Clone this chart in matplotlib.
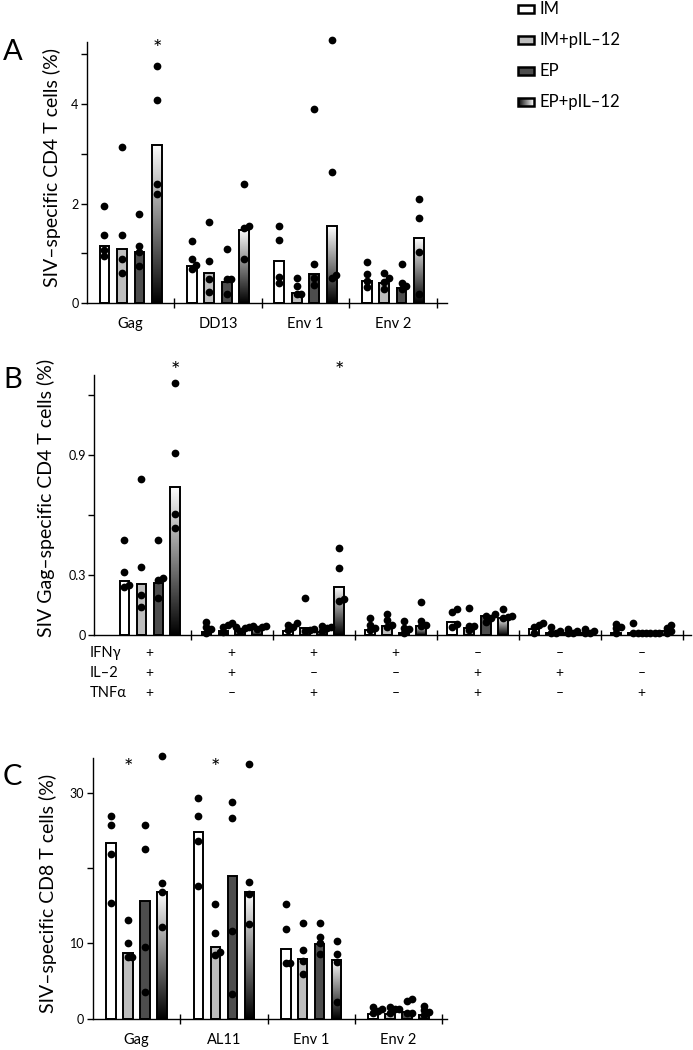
import numpy as np
import matplotlib
matplotlib.use('Agg')
import matplotlib.pyplot as plt
from matplotlib.patches import Rectangle
from matplotlib import transforms

plt.rcParams['font.family'] = ['Lato', 'DejaVu Sans']

# ---------------- data ----------------
series = ['IM', 'IM+pIL–12', 'EP', 'EP+pIL–12']

# Panel A: SIV-specific CD4 T cells (%)
groups_a = ['Gag', 'DD13', 'Env 1', 'Env 2']
bars_a_im = [1.15, 0.75, 0.84, 0.44]
bars_a_im12 = [1.08, 0.61, 0.21, 0.40]
bars_a_ep = [1.02, 0.42, 0.58, 0.31]
bars_a_ep12 = [3.18, 1.47, 1.54, 1.30]
dots_a_im = [[1.95, 1.37, 1.07, 0.95], [1.25, 0.88, 0.76, 0.68], [1.55, 1.27, 0.53, 0.40], [0.82, 0.58, 0.44, 0.33]]
dots_a_im12 = [[3.14, 1.37, 0.88, 0.61], [1.63, 0.85, 0.49, 0.22], [0.51, 0.35, 0.19, 0.18], [0.61, 0.50, 0.43, 0.29]]
dots_a_ep = [[1.79, 1.15, 1.03, 0.74], [1.09, 0.49, 0.49, 0.19], [3.91, 0.79, 0.51, 0.36], [0.79, 0.40, 0.35, 0.28]]
dots_a_ep12 = [[4.77, 4.09, 2.39, 2.20], [2.39, 1.55, 1.50, 0.88], [5.29, 2.63, 0.56, 0.51], [2.10, 1.71, 1.03, 0.18]]
sig_a = [(0, 3)]
yticks_a = [0, 1, 2, 3, 4, 5]
yticklabels_a = ['0', '', '2', '', '4', '']

# Panel B: SIV Gag-specific CD4 T cells (%), by cytokine combination
cytokines = ['IFNγ', 'IL–2', 'TNFα']
combo_ifng = ['+', '+', '+', '+', '–', '–', '–']
combo_il2 = ['+', '+', '–', '–', '+', '+', '–']
combo_tnfa = ['+', '–', '+', '–', '+', '–', '+']
bars_b_im = [0.27, 0.018, 0.022, 0.025, 0.068, 0.03, 0.01]
bars_b_im12 = [0.256, 0.022, 0.038, 0.045, 0.035, 0.01, 0.01]
bars_b_ep = [0.263, 0.022, 0.015, 0.013, 0.095, 0.01, 0.01]
bars_b_ep12 = [0.743, 0.03, 0.243, 0.045, 0.085, 0.01, 0.02]
dots_b_im = [[0.475, 0.318, 0.252, 0.24], [0.065, 0.04, 0.03, 0.01], [0.063, 0.052, 0.043, 0.027],
             [0.088, 0.052, 0.035, 0.027], [0.13, 0.115, 0.057, 0.043], [0.063, 0.052, 0.043, 0.01],
             [0.057, 0.043, 0.035, 0.013]]
dots_b_im12 = [[0.78, 0.343, 0.20, 0.143], [0.06, 0.052, 0.043, 0.018], [0.188, 0.033, 0.027, 0.02],
               [0.105, 0.077, 0.052, 0.04], [0.135, 0.048, 0.048, 0.027], [0.04, 0.02, 0.01, 0.01],
               [0.063, 0.013, 0.013, 0.01]]
dots_b_ep = [[0.475, 0.285, 0.277, 0.188], [0.043, 0.04, 0.035, 0.023], [0.048, 0.043, 0.035, 0.023],
             [0.072, 0.035, 0.03, 0.01], [0.105, 0.097, 0.085, 0.068], [0.032, 0.023, 0.013, 0.01],
             [0.013, 0.013, 0.013, 0.01]]
dots_b_ep12 = [[1.26, 0.908, 0.605, 0.538], [0.048, 0.048, 0.043, 0.03], [0.435, 0.338, 0.181, 0.171],
               [0.168, 0.072, 0.052, 0.045], [0.13, 0.097, 0.093, 0.085], [0.032, 0.023, 0.013, 0.01],
               [0.052, 0.035, 0.023, 0.013]]
sig_b = [(0, 3), (2, 3)]
yticks_b = [0, 0.3, 0.6, 0.9, 1.2]
yticklabels_b = ['0', '0.3', '', '0.9', '']

# Panel C: SIV-specific CD8 T cells (%)
groups_c = ['Gag', 'AL11', 'Env 1', 'Env 2']
bars_c_im = [23.4, 24.8, 9.25, 0.58]
bars_c_im12 = [8.67, 9.56, 7.9, 0.58]
bars_c_ep = [15.7, 18.9, 9.9, 0.9]
bars_c_ep12 = [16.9, 16.9, 7.76, 0.5]
dots_c_im = [[26.9, 25.7, 21.9, 15.4], [29.3, 26.9, 23.6, 17.6], [15.2, 11.9, 7.45, 7.4], [1.5, 1.24, 1.0, 0.8]]
dots_c_im12 = [[13.1, 10.0, 8.25, 8.2], [15.2, 11.4, 8.8, 8.45], [12.7, 9.1, 7.7, 6.0], [1.5, 1.33, 1.24, 0.8]]
dots_c_ep = [[25.7, 22.6, 9.5, 3.6], [28.8, 26.7, 11.7, 3.3], [12.7, 10.9, 10.1, 8.6], [2.6, 2.35, 0.8, 0.7]]
dots_c_ep12 = [[34.9, 18.0, 16.9, 12.2], [33.8, 18.1, 16.6, 12.6], [10.36, 8.6, 7.57, 2.26], [1.7, 1.15, 0.93, 0.5]]
sig_c = [(0, 1), (1, 1)]
yticks_c = [0, 10, 20, 30]
yticklabels_c = ['0', '10', '', '30']

# ---------------- style ----------------
FILLS = ['white', '#bdbdbd', '#4d4d4d', None]
W, H = 693, 1050
DPI = 100
fig = plt.figure(figsize=(W / DPI, H / DPI), dpi=DPI)


def px_axes(l, t, r, b):
    return fig.add_axes([l / W, 1 - b / H, (r - l) / W, (b - t) / H])


def swarm(ax, xc, vals, d=7.5):
    tr = ax.transData
    inv = tr.inverted()
    cx = tr.transform((xc, 0))[0]
    placed = []
    out = [0.0] * len(vals)
    for i in np.argsort(vals, kind='stable'):
        py = tr.transform((xc, vals[i]))[1]
        px = cx
        for c in [0, 0.6, 1.2, -0.6, 1.8]:
            px = cx + c * d
            if all(np.hypot(px - qx, py - qy) >= 0.55 * d for qx, qy in placed):
                break
        placed.append((px, py))
        out[i] = inv.transform((px, py))[0]
    return out


def draw_panel(ax, bar_sets, dot_sets, xlim, ylim, yticks, yticklabels, xlabels,
               sig, sig_y, width=0.112, step=0.2):
    ax.set_xlim(*xlim)
    ax.set_ylim(*ylim)
    n = len(bar_sets[0])
    x = np.arange(n)
    for si in range(4):
        xs = x + (si - 1.5) * step
        fc = FILLS[si] if FILLS[si] is not None else 'none'
        rects = ax.bar(xs, bar_sets[si], width=width, color=fc, edgecolor='black',
                       linewidth=1.4, zorder=2)
        if FILLS[si] is None:
            for r in rects:
                grad = np.linspace(0, 1, 256).reshape(-1, 1)
                im = ax.imshow(grad, cmap='gray', origin='lower', aspect='auto',
                               extent=[r.get_x(), r.get_x() + r.get_width(), 0, r.get_height()],
                               zorder=1.9, vmin=0, vmax=1)
                im.set_clip_path(r)
        ax.set_xlim(*xlim)
        ax.set_ylim(*ylim)
        for gi in range(n):
            xd = swarm(ax, xs[gi], dot_sets[si][gi])
            ax.scatter(xd, dot_sets[si][gi], s=31, color='black', linewidths=0, zorder=3,
                       clip_on=False)
    for gi, si in sig:
        ax.text(x[gi] + (si - 1.5) * step, sig_y, '*', ha='center', va='center',
                fontsize=16, clip_on=False)
    ax.set_xlim(*xlim)
    ax.set_ylim(*ylim)
    for s in ['top', 'right']:
        ax.spines[s].set_visible(False)
    for s in ['left', 'bottom']:
        ax.spines[s].set_linewidth(1.0)
    ax.set_yticks(yticks, labels=yticklabels)
    ax.tick_params(axis='y', direction='out', length=4, width=1, labelsize=9, pad=2)
    ax.set_xticks(x, labels=xlabels)
    ax.tick_params(axis='x', which='major', length=0, labelsize=10.5, pad=10)
    ax.set_xticks(np.arange(n) + 0.5, minor=True)
    ax.tick_params(axis='x', which='minor', direction='inout', length=7, width=1)
    return x


# Panel A
axA = px_axes(87, 42, 447, 303)
draw_panel(axA, [bars_a_im, bars_a_im12, bars_a_ep, bars_a_ep12],
           [dots_a_im, dots_a_im12, dots_a_ep, dots_a_ep12],
           (-0.5, 3.62), (0, 5.25), yticks_a, yticklabels_a, groups_a, sig_a, 5.1)

# Panel B
axB = px_axes(94.3, 375, 690.7, 635.3)
xb = draw_panel(axB, [bars_b_im, bars_b_im12, bars_b_ep, bars_b_ep12],
                [dots_b_im, dots_b_im12, dots_b_ep, dots_b_ep12],
                (-0.677, 6.6), (0, 1.30), yticks_b, yticklabels_b, [''] * 7, sig_b, 1.32,
                width=0.116, step=0.207)
tb = transforms.blended_transform_factory(axB.transData, fig.transFigure)
for ri, (name, combo) in enumerate(zip(cytokines, [combo_ifng, combo_il2, combo_tnfa])):
    yrow = 1 - (652.7 + 20 * ri) / H
    fig.text(90 / W, yrow, name, ha='left', va='center', fontsize=10.5)
    for gi, sym in enumerate(combo):
        axB.text(xb[gi], yrow, sym, transform=tb, ha='center', va='center', fontsize=10)

# Panel C
axC = px_axes(92.7, 758.3, 446.7, 1018.7)
draw_panel(axC, [bars_c_im, bars_c_im12, bars_c_ep, bars_c_ep12],
           [dots_c_im, dots_c_im12, dots_c_ep, dots_c_ep12],
           (-0.5, 3.55), (0, 34.6), yticks_c, yticklabels_c, groups_c, sig_c, 33.3,
           width=0.108, step=0.194)

# y labels and panel letters
fig.text(52 / W, 1 - 167 / H, 'SIV–specific CD4 T cells (%)', rotation=90, ha='center', va='center', fontsize=14)
fig.text(46 / W, 1 - 498 / H, 'SIV Gag–specific CD4 T cells (%)', rotation=90, ha='center', va='center', fontsize=14)
fig.text(48 / W, 1 - 893 / H, 'SIV–specific CD8 T cells (%)', rotation=90, ha='center', va='center', fontsize=14)
for letter, yc in [('A', 52.5), ('B', 380), ('C', 777)]:
    fig.text(3 / W, 1 - yc / H, letter, ha='left', va='center', fontsize=21)

# Legend (drawn in its own pixel-unit axes)
axL = px_axes(505, 0, 693, 115)
axL.set_xlim(505, 693)
axL.set_ylim(115, 0)
axL.axis('off')
for si, name in enumerate(series):
    yc = 9.3 + 30.8 * si
    fc = FILLS[si] if FILLS[si] is not None else 'none'
    rect = Rectangle((518, yc - 4.2), 16, 8.4, facecolor=fc, edgecolor='black', linewidth=1.8, zorder=2)
    axL.add_patch(rect)
    if FILLS[si] is None:
        grad = np.linspace(0, 1, 64).reshape(1, -1)
        im = axL.imshow(grad, cmap='gray', aspect='auto', extent=[518, 534, yc + 4.2, yc - 4.2],
                        zorder=1.9, vmin=0, vmax=1)
        im.set_clip_path(rect)
        axL.set_xlim(505, 693)
        axL.set_ylim(115, 0)
    axL.text(539.5, yc, name, ha='left', va='center', fontsize=12)

fig.savefig('out.png', dpi=DPI)
